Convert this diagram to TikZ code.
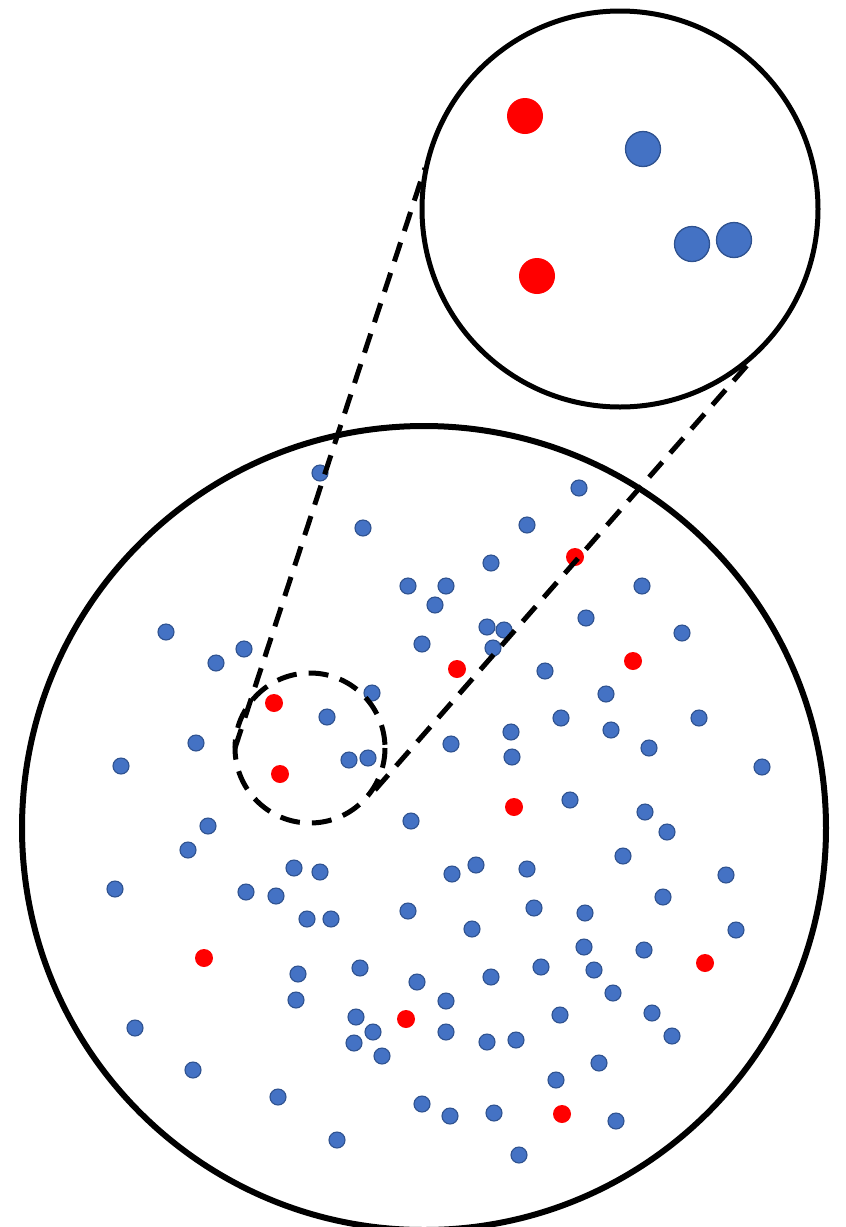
\documentclass[tikz,border=0pt]{standalone}
\begin{document}
\begin{tikzpicture}[x=1pt,y=-1pt,
  bdot/.style={circle,fill=dotblue,draw=dotedge,line width=1.1pt,inner sep=0pt,minimum size=16pt},
  rdot/.style={circle,fill=red,inner sep=0pt,minimum size=18pt},
  bbig/.style={circle,fill=dotblue,draw=dotedge,line width=1.3pt,inner sep=0pt,minimum size=35pt},
  rbig/.style={circle,fill=red,inner sep=0pt,minimum size=36pt},
  bound/.style={draw=black,line width=6pt},
  zoomline/.style={draw=black,line width=5pt,dash pattern=on 20pt off 12pt}]
\definecolor{dotblue}{HTML}{4472C4}
\definecolor{dotedge}{HTML}{2F528F}
\useasboundingbox (0,0) rectangle (846,1227);
% big population circle
\draw[bound] (424,828) circle (402);
% zoom circle
\draw[bound,line width=5pt] (620,209) circle (198);
% dots in big circle
\foreach \i/\x/\y in {1/320/473,2/363/528,3/579/488,4/527/525,5/491/563,6/408/586,7/446/586,8/435/605,
 9/642/586,10/166/632,11/244/649,12/216/663,13/422/644,14/487/627,15/504/630,16/493/648,
 17/586/618,18/682/633,19/545/671,20/372/693,21/606/694,22/327/717,23/561/718,24/699/718,
 25/611/730,26/511/732,27/196/743,28/451/744,29/649/748,30/349/760,31/368/758,32/512/757,
 33/121/766,34/762/767,35/570/800,36/645/812,37/208/826,38/411/821,39/667/832,40/188/850,
 41/623/856,42/294/868,43/320/872,44/476/865,45/452/874,46/527/869,47/726/875,48/115/889,
 49/246/892,50/276/896,51/663/897,52/534/908,53/408/911,54/585/913,55/307/919,56/331/919,
 57/472/929,58/736/930,59/584/947,60/644/950,61/298/974,62/360/968,63/541/967,64/594/970,
 65/491/977,66/417/982,67/613/993,68/296/1000,69/446/1001,70/135/1028,71/356/1017,72/373/1032,
 73/560/1015,74/652/1013,75/446/1032,76/354/1043,77/487/1042,78/516/1040,79/672/1036,
 80/382/1056,81/599/1063,82/193/1070,83/556/1080,84/278/1097,85/422/1104,86/450/1116,
 87/494/1113,88/616/1121,89/337/1140,90/519/1155}
  {\node[bdot] (b\i) at (\x,\y) {};}
\foreach \i/\x/\y in {1/274/703,2/280/774,3/575/557,4/457/669,5/633/661,6/514/807,
 7/204/958,8/705/963,9/406/1019,10/562/1114}
  {\node[rdot] (r\i) at (\x,\y) {};}
% dots in zoom circle
\node[rbig] (zr1) at (525,116) {};
\node[rbig] (zr2) at (537,276) {};
\node[bbig] (zb1) at (643,149) {};
\node[bbig] (zb2) at (692,244) {};
\node[bbig] (zb3) at (734,240) {};
% dashed sample circle and zoom lines
\draw[zoomline] (310,748) circle (75);
\coordinate (l1) at (235,748);
\coordinate (l2) at (425,168);
\coordinate (m1) at (375,790);
\coordinate (m2) at (750,362);
\draw[zoomline] (l1) -- (l2);
\draw[zoomline] (m1) -- (m2);
\end{tikzpicture}
\end{document}
